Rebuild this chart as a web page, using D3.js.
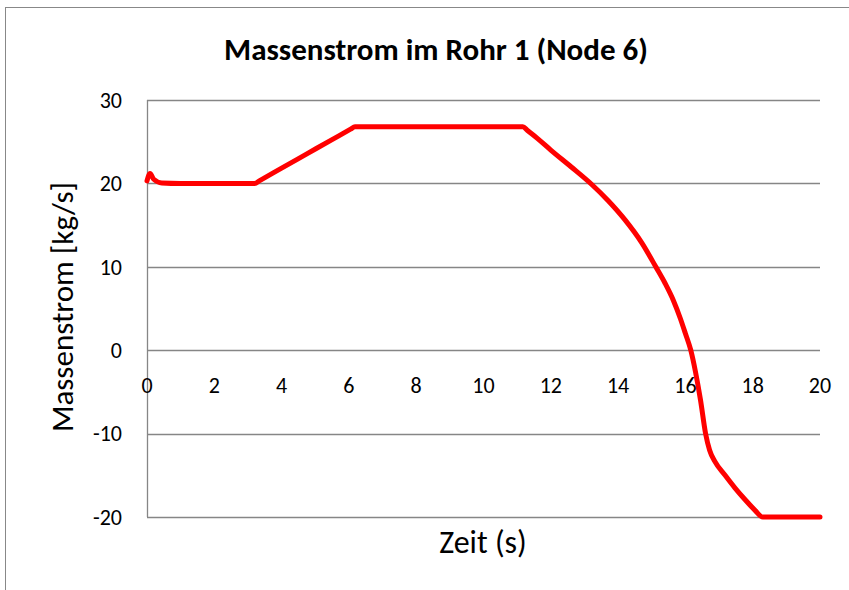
<!DOCTYPE html>
<html>
<head>
<meta charset="utf-8">
<script src="https://cdn.jsdelivr.net/npm/d3@7"></script>
<style>
  body { margin: 0; background: #fff; }
  text { font-family: Carlito, Lato, 'Open Sans', sans-serif; fill: #000; }
</style>
</head>
<body>
<div id="chart"></div>
<script>
// values
var zeit = [0, 0.09, 0.2, 0.44, 1, 2, 3.0, 3.2, 3.35, 4.0, 4.75, 5.5, 6.05, 6.18, 6.4, 8, 10, 11.0, 11.17, 11.3, 11.6, 12, 12.6, 13.21, 13.7, 14.2, 14.7, 15.12, 15.4, 15.64, 15.85, 16.0, 16.16, 16.3, 16.45, 16.6, 16.72, 16.87, 17.18, 17.47, 17.77, 18.07, 18.3, 19, 20];
var massenstrom = [20.3, 21.2, 20.5, 20.06, 20.0, 20.0, 20.0, 20.0, 20.34, 21.83, 23.54, 25.25, 26.5, 26.8, 26.8, 26.8, 26.8, 26.8, 26.8, 26.37, 25.4, 24.0, 22.0, 19.9, 17.95, 15.65, 12.9, 10.0, 8.0, 6.0, 3.8, 2.0, 0, -2.6, -6.0, -10, -12.0, -13.3, -15.0, -16.5, -17.9, -19.2, -20, -20, -20];
var xTicks = [0, 2, 4, 6, 8, 10, 12, 14, 16, 18, 20];
var yTicks = [-20, -10, 0, 10, 20, 30];

var width = 849, height = 590;

var svg = d3.select('#chart').append('svg')
    .attr('width', width)
    .attr('height', height);

// outer chart frame (cut off right and bottom like the screenshot)
svg.append('rect')
    .attr('x', 5.5)
    .attr('y', 7.5)
    .attr('width', 900)
    .attr('height', 700)
    .attr('fill', 'none')
    .attr('stroke', '#888')
    .attr('stroke-width', 1);

var x = d3.scaleLinear().domain([0, 20]).range([147, 820]);
var y = d3.scaleLinear().domain([-20, 30]).range([517, 100]);

// gridlines
svg.append('g')
    .selectAll('line')
    .data(yTicks)
    .join('line')
    .attr('x1', x(0))
    .attr('x2', x(20))
    .attr('y1', function(d) { return Math.round(y(d)) + 0.5; })
    .attr('y2', function(d) { return Math.round(y(d)) + 0.5; })
    .attr('stroke', '#868686')
    .attr('stroke-width', 1.3);

// vertical axis line
svg.append('line')
    .attr('x1', x(0) + 0.5)
    .attr('x2', x(0) + 0.5)
    .attr('y1', y(30))
    .attr('y2', y(-20))
    .attr('stroke', '#868686')
    .attr('stroke-width', 1.3);

// y tick labels
svg.append('g')
    .selectAll('text')
    .data(yTicks)
    .join('text')
    .attr('x', 122)
    .attr('y', function(d) { return y(d); })
    .attr('dy', '0.35em')
    .attr('text-anchor', 'end')
    .style('font-size', '22px')
    .text(function(d) { return d; });

// x tick labels, sitting under the zero line
svg.append('g')
    .selectAll('text')
    .data(xTicks)
    .join('text')
    .attr('x', function(d) { return x(d); })
    .attr('y', y(0) + 35)
    .attr('dy', '0.35em')
    .attr('text-anchor', 'middle')
    .style('font-size', '22px')
    .text(function(d) { return d; });

// the series
var line = d3.line()
    .x(function(d, i) { return x(zeit[i]); })
    .y(function(d) { return y(d); })
    .curve(d3.curveMonotoneX);

svg.append('path')
    .datum(massenstrom)
    .attr('d', line)
    .attr('fill', 'none')
    .attr('stroke', '#ff0000')
    .attr('stroke-width', 5)
    .attr('stroke-linejoin', 'round')
    .attr('stroke-linecap', 'round');

// titles
svg.append('text')
    .attr('x', 436)
    .attr('y', 60)
    .attr('text-anchor', 'middle')
    .style('font-size', '31px')
    .style('font-weight', 'bold')
    .text('Massenstrom im Rohr 1 (Node 6)');

svg.append('text')
    .attr('transform', 'translate(73, 307) rotate(-90)')
    .attr('text-anchor', 'middle')
    .style('font-size', '31px')
    .text('Massenstrom [kg/s]');

svg.append('text')
    .attr('x', 483)
    .attr('y', 553)
    .attr('text-anchor', 'middle')
    .style('font-size', '32px')
    .text('Zeit (s)');
</script>
</body>
</html>
